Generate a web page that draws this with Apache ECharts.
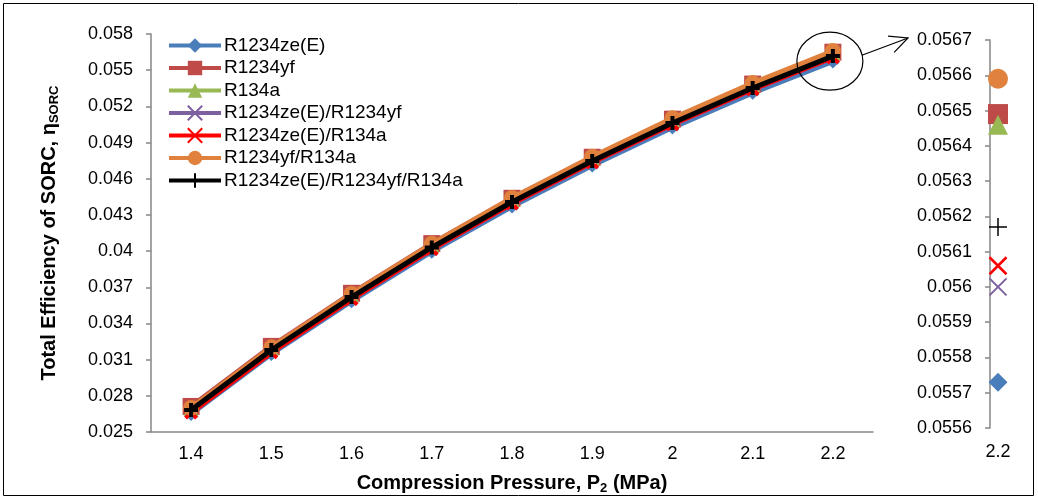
<!DOCTYPE html>
<html>
<head>
<meta charset="utf-8">
<script src="https://cdn.jsdelivr.net/npm/echarts@6/dist/echarts.min.js"></script>
<style>html,body{margin:0;padding:0;background:#fff}#c{width:1038px;height:503px}</style>
</head>
<body>
<div id="c"></div>
<script>
// ---- data ----
const pressures = ['1.4','1.5','1.6','1.7','1.8','1.9','2','2.1','2.2'];
const seriesNames = ['R1234ze(E)','R1234yf','R134a','R1234ze(E)/R1234yf','R1234ze(E)/R134a','R1234yf/R134a','R1234ze(E)/R1234yf/R134a'];
const r1234zeE      = [0.02650, 0.03147, 0.03585, 0.03995, 0.04370, 0.04709, 0.05024, 0.05312, 0.05573];
const r1234yf       = [0.02712, 0.03210, 0.03650, 0.04062, 0.04438, 0.04778, 0.05094, 0.05385, 0.05649];
const r134a         = [0.02690, 0.03192, 0.03634, 0.04048, 0.04427, 0.04770, 0.05088, 0.05380, 0.05646];
const zeYf          = [0.02665, 0.03162, 0.03601, 0.04013, 0.04390, 0.04730, 0.05046, 0.05336, 0.05600];
const ze134a        = [0.02660, 0.03160, 0.03602, 0.04016, 0.04394, 0.04736, 0.05052, 0.05342, 0.05606];
const yf134a        = [0.02700, 0.03202, 0.03645, 0.04060, 0.04440, 0.04783, 0.05101, 0.05393, 0.05659];
const zeYf134a      = [0.02682, 0.03180, 0.03619, 0.04030, 0.04407, 0.04747, 0.05062, 0.05352, 0.05617];
const insetCategory = ['2.2'];
const yTicksMain = [0.025, 0.058, 0.003];     // min, max, step
const yTicksInset = [0.0556, 0.0567, 0.0001]; // min, max, step

const allValues = [r1234zeE, r1234yf, r134a, zeYf, ze134a, yf134a, zeYf134a];

// ---- styles ----
const FONT = "'Liberation Sans', Arial, sans-serif";
const AX = '#868686';
const XPATH = 'path://M0,0L10,10M10,0L0,10';
const PLUS = 'path://M5,0L5,10M0,5L10,5';
const styles = [
  {color:'#4A7EBB', symbol:'diamond',  size:14, inset:19, bw:0},
  {color:'#BE4B48', symbol:'rect',     size:17, inset:20, bw:0},
  {color:'#98B954', symbol:'triangle', size:15, inset:20, bw:0},
  {color:'#7D60A0', symbol:XPATH,      size:11, inset:17, bw:3, ibw:2},
  {color:'#FF0000', symbol:XPATH,      size:11, inset:17, bw:4, ibw:2.5},
  {color:'#E0823D', symbol:'circle',   size:16, inset:20, bw:0},
  {color:'#000000', symbol:PLUS,       size:14, inset:18, bw:4, ibw:1.5}
];

const series = [];
seriesNames.forEach((n, i) => {
  const s = styles[i];
  series.push({
    name: n, type: 'line', xAxisIndex: 0, yAxisIndex: 0,
    data: allValues[i],
    symbol: s.symbol, symbolSize: s.size, showAllSymbol: true,
    lineStyle: {color: s.color, width: 5},
    itemStyle: {color: s.color, borderColor: s.color, borderWidth: s.bw, opacity: 1},
    emphasis: {disabled: true},
    animation: false, z: 2 + i
  });
});
seriesNames.forEach((n, i) => {
  const s = styles[i];
  series.push({
    name: 'inset ' + n, type: 'scatter', xAxisIndex: 1, yAxisIndex: 1,
    data: [[insetCategory[0], allValues[i][allValues[i].length - 1]]],
    symbol: s.symbol, symbolSize: s.inset,
    itemStyle: {color: s.color, borderColor: s.color, borderWidth: s.ibw || 0, opacity: 1},
    emphasis: {disabled: true},
    animation: false, z: 2 + i
  });
});

const fmt = d => v => String(parseFloat(v.toFixed(d)));

const chart = echarts.init(document.getElementById('c'));
chart.setOption({
  backgroundColor: '#fff',
  animation: false,
  textStyle: {fontFamily: FONT},
  legend: {
    data: seriesNames,
    orient: 'vertical', left: 162, top: 31,
    itemWidth: 52, itemHeight: 18, itemGap: 3.5,
    lineStyle: {width: 4},
    textStyle: {fontFamily: FONT, fontSize: 19, color: '#000', padding: [0,0,0,-2]},
    selectedMode: false
  },
  grid: [
    {left: 151, right: 165, top: 34, bottom: 71},
    {left: 990, width: 16, top: 40, bottom: 75}
  ],
  xAxis: [
    {
      type: 'category', gridIndex: 0, data: pressures, boundaryGap: true,
      axisLine: {lineStyle: {color: AX, width: 1.5}},
      axisTick: {lineStyle: {color: AX, width: 1.5}, length: 5},
      axisLabel: {color: '#000', fontSize: 18, margin: 13, fontFamily: FONT},
      name: '{a|Compression Pressure, P}{b|2}{a| (MPa)}',
      nameLocation: 'middle', nameGap: 39,
      nameTextStyle: {rich: {
        a: {fontFamily: FONT, fontSize: 20, fontWeight: 'bold', color: '#000', lineHeight: 24},
        b: {fontFamily: FONT, fontSize: 13, fontWeight: 'bold', color: '#000', lineHeight: 13, verticalAlign: 'bottom'}
      }}
    },
    {
      type: 'category', gridIndex: 1, data: insetCategory, boundaryGap: true,
      axisLine: {show: false}, axisTick: {show: false},
      axisLabel: {color: '#000', fontSize: 18, margin: 15, fontFamily: FONT}
    }
  ],
  yAxis: [
    {
      type: 'value', gridIndex: 0,
      min: yTicksMain[0], max: yTicksMain[1], interval: yTicksMain[2],
      axisLine: {show: true, lineStyle: {color: AX, width: 1.5}},
      axisTick: {show: true, lineStyle: {color: AX, width: 1.5}, length: 5},
      splitLine: {show: false},
      axisLabel: {color: '#000', fontSize: 18, margin: 18, fontFamily: FONT, formatter: fmt(3)},
      name: '{a|Total Efficiency of SORC, η}{b|SORC}',
      nameLocation: 'middle', nameGap: 90, nameRotate: 90,
      nameTextStyle: {rich: {
        a: {fontFamily: FONT, fontSize: 20, fontWeight: 'bold', color: '#000', lineHeight: 24},
        b: {fontFamily: FONT, fontSize: 13, fontWeight: 'bold', color: '#000', lineHeight: 13, verticalAlign: 'bottom'}
      }}
    },
    {
      type: 'value', gridIndex: 1,
      min: yTicksInset[0], max: yTicksInset[1], interval: yTicksInset[2],
      axisLine: {show: true, lineStyle: {color: AX, width: 1.5}},
      axisTick: {show: true, lineStyle: {color: AX, width: 1.5}, length: 5},
      splitLine: {show: false},
      axisLabel: {color: '#000', fontSize: 18, margin: 18, fontFamily: FONT, formatter: fmt(4)}
    }
  ],
  series: series
});

// ---- annotation: circle around 2.2 points and arrow to the inset ----
const last = pressures.length - 1;
const pTop = chart.convertToPixel({seriesIndex: 5}, [last, yf134a[last]]);
const pBot = chart.convertToPixel({seriesIndex: 0}, [last, r1234zeE[last]]);
const cx = pTop[0] - 3, cy = (pTop[1] + pBot[1]) / 2 + 5;
const rx = 33, ry = 29;
const insetTop = chart.convertToPixel({yAxisIndex: 1}, yTicksInset[1]);
const insetX = chart.convertToPixel({xAxisIndex: 1}, insetCategory[0]);
const tip = [insetX - 90, insetTop - 2];
const start = [cx + rx - 1, cy - 6];
const ang = Math.atan2(tip[1] - start[1], tip[0] - start[0]);
const hl = 20, ha = 0.45;
const h1 = [tip[0] - hl * Math.cos(ang - ha), tip[1] - hl * Math.sin(ang - ha)];
const h2 = [tip[0] - hl * Math.cos(ang + ha), tip[1] - hl * Math.sin(ang + ha)];
chart.setOption({
  graphic: [
    {type: 'rect', shape: {x: 3.5, y: 3.5, width: 1030, height: 492}, style: {fill: 'none', stroke: '#000', lineWidth: 1}, silent: true, z: 0},
    {type: 'ellipse', shape: {cx: cx, cy: cy, rx: rx, ry: ry}, style: {fill: 'none', stroke: '#000', lineWidth: 1.2}, silent: true, z: 100},
    {type: 'polyline', shape: {points: [start, tip]}, style: {stroke: '#000', lineWidth: 1.2, fill: 'none'}, silent: true, z: 100},
    {type: 'polyline', shape: {points: [h1, tip, h2]}, style: {stroke: '#000', lineWidth: 1.2, fill: 'none'}, silent: true, z: 100}
  ]
});
</script>
</body>
</html>
